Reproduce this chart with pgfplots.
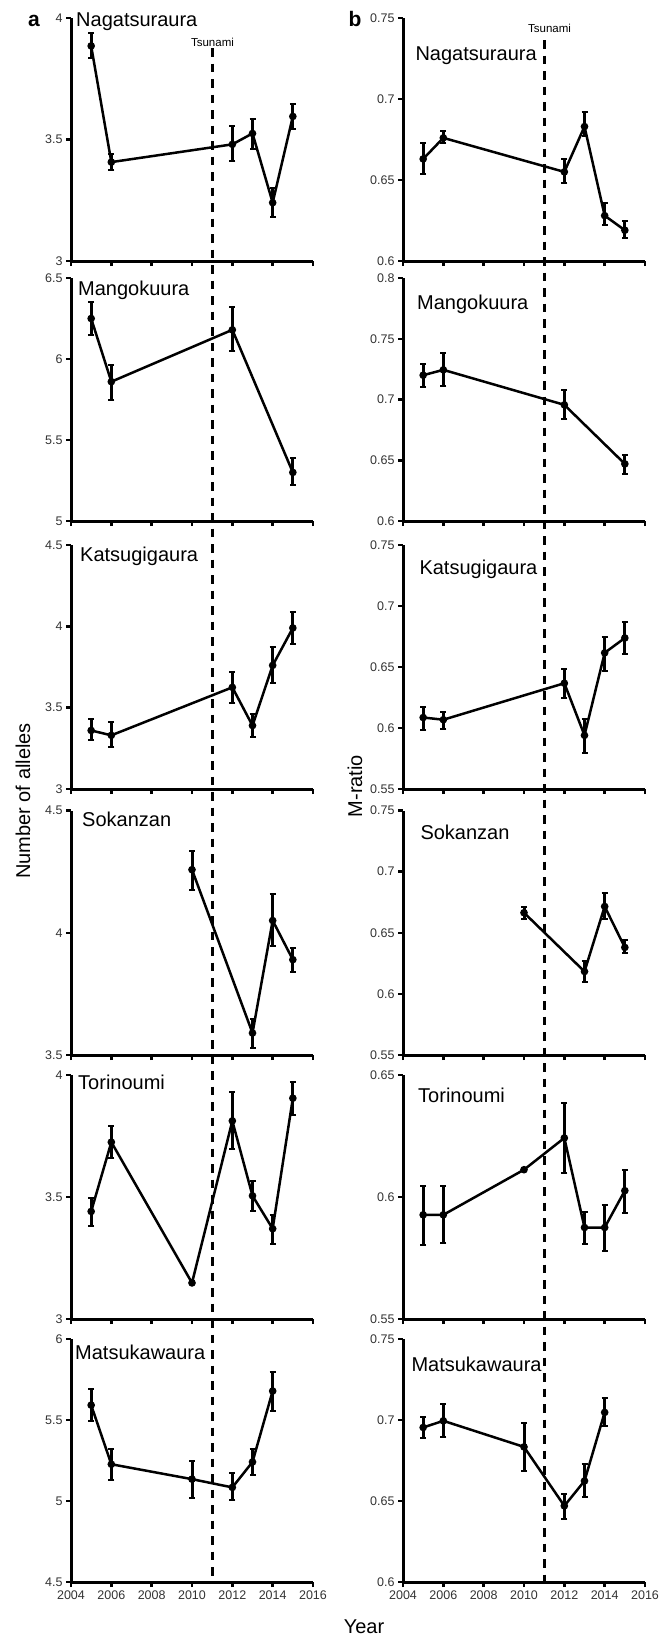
\documentclass[border=0pt]{standalone}
\usepackage{fontspec}
\setmainfont{Liberation Sans}
\usepackage{pgfplots}
\pgfplotsset{compat=1.18}

\pgfplotsset{
  panel/.style={
    scale only axis, width=242pt,
    xmin=2004, xmax=2016, enlargelimits=false,
    axis lines=left, axis line style={line width=3pt, -},
    xtick={2004,2006,2008,2010,2012,2014,2016}, xticklabels={},
    tick align=outside, major tick length=5pt,
    tick style={line width=2.5pt, black},
    ticklabel style={font=\fontsize{12.5}{14}\selectfont, text=black!80},
    /pgf/number format/assume math mode=true,
    clip=false,
  },
  lastrow/.style={xticklabels={2004,2006,2008,2010,2012,2014,2016}},
  series/.style={
    black, line width=2.5pt, mark=*, mark size=2.5pt,
    error bars/.cd, y dir=both, y explicit,
    error bar style={line width=3pt},
    error mark options={rotate=90, mark size=3pt, line width=2pt},
  },
  table/hilo/.style={
    x=x, y=y,
    y error plus expr={\thisrow{hi}-\thisrow{y}},
    y error minus expr={\thisrow{y}-\thisrow{lo}},
  },
}

\newcommand{\name}{\fontsize{20}{24}\selectfont}

\begin{document}
\begin{tikzpicture}
\useasboundingbox (0,0) rectangle (664pt,-1638pt);

% tsunami lines
\draw[line width=3pt, dash pattern=on 8.5pt off 7pt] (212.2pt,-48pt) -- (212.2pt,-1582pt);
\draw[line width=3pt, dash pattern=on 8.5pt off 7pt] (544.2pt,-40pt) -- (544.2pt,-1582pt);
\node[anchor=base, font=\fontsize{11.5}{13}\selectfont] at (212.5pt,-46.7pt) {Tsunami};
\node[anchor=base, font=\fontsize{11.5}{13}\selectfont] at (549.5pt,-32pt) {Tsunami};

% ---- a: number of alleles ----
\begin{axis}[panel, at={(71pt,-261pt)}, anchor=south west, height=243pt,
  ymin=3, ymax=4, ytick={3,3.5,4}]
\addplot[series] table[hilo] {
x y hi lo
2005 3.885 3.937 3.834
2006 3.407 3.439 3.374
2012 3.480 3.556 3.412
2013 3.525 3.584 3.461
2014 3.240 3.300 3.180
2015 3.595 3.646 3.543
};
\end{axis}

\begin{axis}[panel, at={(71pt,-521pt)}, anchor=south west, height=243pt,
  ymin=5, ymax=6.5, ytick={5,5.5,6,6.5}]
\addplot[series] table[hilo] {
x y hi lo
2005 6.25 6.35 6.15
2006 5.86 5.96 5.75
2012 6.18 6.32 6.05
2015 5.30 5.39 5.22
};
\end{axis}

\begin{axis}[panel, at={(71pt,-789pt)}, anchor=south west, height=244pt,
  ymin=3, ymax=4.5, ytick={3,3.5,4,4.5}]
\addplot[series] table[hilo] {
x y hi lo
2005 3.360 3.430 3.300
2006 3.330 3.410 3.260
2012 3.625 3.720 3.530
2013 3.390 3.460 3.320
2014 3.760 3.870 3.650
2015 3.990 4.090 3.890
};
\end{axis}

\begin{axis}[panel, at={(71pt,-1055pt)}, anchor=south west, height=244.5pt,
  ymin=3.5, ymax=4.5, ytick={3.5,4,4.5}]
\addplot[series] table[hilo] {
x y hi lo
2010 4.258 4.336 4.176
2013 3.590 3.648 3.530
2014 4.050 4.160 3.944
2015 3.890 3.937 3.840
};
\end{axis}

\begin{axis}[panel, at={(71pt,-1319pt)}, anchor=south west, height=244pt,
  ymin=3, ymax=4, ytick={3,3.5,4}]
\addplot[series] table[hilo] {
x y hi lo
2005 3.441 3.496 3.383
2006 3.725 3.790 3.660
2010 3.148 3.148 3.148
2012 3.812 3.930 3.696
2013 3.505 3.564 3.444
2014 3.370 3.427 3.308
2015 3.905 3.973 3.836
};
\end{axis}

\begin{axis}[panel, lastrow, at={(71pt,-1582pt)}, anchor=south west, height=243pt,
  ymin=4.5, ymax=6, ytick={4.5,5,5.5,6}]
\addplot[series] table[hilo] {
x y hi lo
2005 5.592 5.689 5.495
2006 5.227 5.324 5.130
2010 5.135 5.250 5.020
2012 5.084 5.170 5.005
2013 5.241 5.324 5.160
2014 5.679 5.798 5.557
};
\end{axis}

% ---- b: M-ratio ----
\begin{axis}[panel, at={(403pt,-261pt)}, anchor=south west, height=243pt,
  ymin=0.6, ymax=0.75, ytick={0.6,0.65,0.7,0.75}]
\addplot[series] table[hilo] {
x y hi lo
2005 0.663 0.673 0.654
2006 0.676 0.680 0.673
2012 0.655 0.663 0.648
2013 0.683 0.692 0.677
2014 0.628 0.636 0.622
2015 0.619 0.625 0.614
};
\end{axis}

\begin{axis}[panel, at={(403pt,-521pt)}, anchor=south west, height=243pt,
  ymin=0.6, ymax=0.8, ytick={0.6,0.65,0.7,0.75,0.8}]
\addplot[series] table[hilo] {
x y hi lo
2005 0.7200 0.7294 0.7107
2006 0.7244 0.7380 0.7110
2012 0.6956 0.7080 0.6840
2015 0.6470 0.6540 0.6387
};
\end{axis}

\begin{axis}[panel, at={(403pt,-789pt)}, anchor=south west, height=244pt,
  ymin=0.55, ymax=0.75, ytick={0.55,0.6,0.65,0.7,0.75}]
\addplot[series] table[hilo] {
x y hi lo
2005 0.6086 0.6176 0.5986
2006 0.6068 0.6135 0.5990
2012 0.6367 0.6480 0.6245
2013 0.5940 0.6076 0.5796
2014 0.6616 0.6750 0.6470
2015 0.6738 0.6870 0.6606
};
\end{axis}

\begin{axis}[panel, at={(403pt,-1055pt)}, anchor=south west, height=244.5pt,
  ymin=0.55, ymax=0.75, ytick={0.55,0.6,0.65,0.7,0.75}]
\addplot[series] table[hilo] {
x y hi lo
2010 0.6664 0.6710 0.6610
2013 0.6183 0.6265 0.6096
2014 0.6715 0.6825 0.6610
2015 0.6380 0.6440 0.6335
};
\end{axis}

\begin{axis}[panel, at={(403pt,-1319pt)}, anchor=south west, height=244pt,
  ymin=0.55, ymax=0.65, ytick={0.55,0.6,0.65}]
\addplot[series] table[hilo] {
x y hi lo
2005 0.5927 0.6046 0.5804
2006 0.5927 0.6046 0.5810
2010 0.6112 0.6112 0.6112
2012 0.6242 0.6386 0.6099
2013 0.5875 0.5937 0.5808
2014 0.5875 0.5968 0.5780
2015 0.6026 0.6112 0.5934
};
\end{axis}

\begin{axis}[panel, lastrow, at={(403pt,-1582pt)}, anchor=south west, height=243pt,
  ymin=0.6, ymax=0.75, ytick={0.6,0.65,0.7,0.75}]
\addplot[series] table[hilo] {
x y hi lo
2005 0.6954 0.7016 0.6890
2006 0.6995 0.7098 0.6893
2010 0.6834 0.6982 0.6684
2012 0.6470 0.6546 0.6386
2013 0.6624 0.6726 0.6525
2014 0.7047 0.7133 0.6962
};
\end{axis}

% panel names
\node[anchor=base west, inner sep=0, font=\name] at (76pt,-27pt) {Nagatsuraura};
\node[anchor=base west, inner sep=0, font=\name] at (78pt,-295.7pt) {Mangokuura};
\node[anchor=base west, inner sep=0, font=\name] at (80pt,-561.7pt) {Katsugigaura};
\node[anchor=base west, inner sep=0, font=\name] at (82pt,-826.7pt) {Sokanzan};
\node[anchor=base west, inner sep=0, font=\name] at (78pt,-1089.3pt) {Torinoumi};
\node[anchor=base west, inner sep=0, font=\name] at (75pt,-1359.3pt) {Matsukawaura};

\node[anchor=base west, inner sep=0, font=\name] at (415.3pt,-60pt) {Nagatsuraura};
\node[anchor=base west, inner sep=0, font=\name] at (417pt,-309pt) {Mangokuura};
\node[anchor=base west, inner sep=0, font=\name] at (419.3pt,-574.3pt) {Katsugigaura};
\node[anchor=base west, inner sep=0, font=\name] at (420.3pt,-839.3pt) {Sokanzan};
\node[anchor=base west, inner sep=0, font=\name] at (418pt,-1102.3pt) {Torinoumi};
\node[anchor=base west, inner sep=0, font=\name] at (411.3pt,-1371pt) {Matsukawaura};

% panel letters and axis titles
\node[anchor=base, font=\fontsize{21}{24}\selectfont\bfseries] at (34pt,-26pt) {a};
\node[anchor=base, font=\fontsize{21}{24}\selectfont\bfseries] at (355pt,-27pt) {b};
\node[rotate=90, font=\name] at (23pt,-801pt) {Number of alleles};
\node[rotate=90, font=\name] at (355pt,-786pt) {M-ratio};
\node[font=\name] at (364pt,-1627pt) {Year};
\end{tikzpicture}
\end{document}
